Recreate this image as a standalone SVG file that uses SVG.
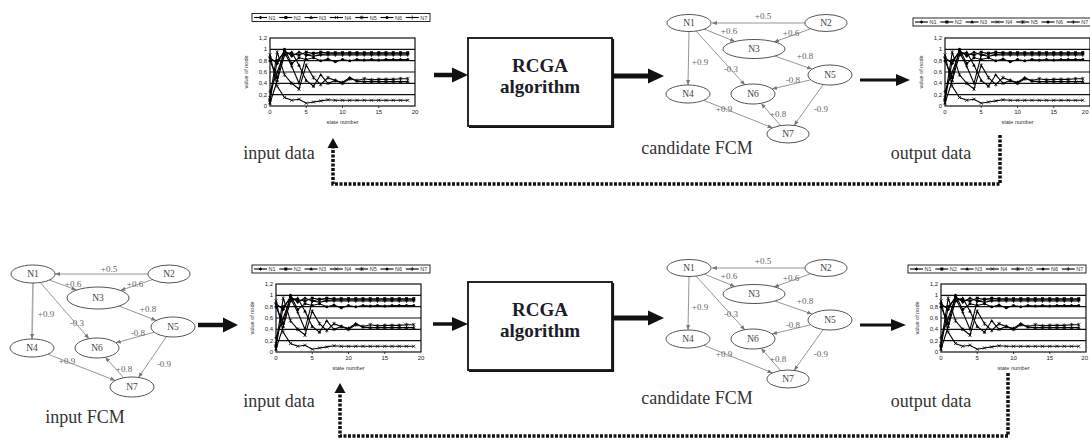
<svg xmlns="http://www.w3.org/2000/svg" xmlns:xlink="http://www.w3.org/1999/xlink" width="1090" height="441" viewBox="0 0 1090 441">
<style>
.lbl{font-family:"Liberation Serif",serif;font-size:18px;fill:#333;text-anchor:middle}
.algo{font-family:"Liberation Serif",serif;font-size:19px;font-weight:bold;fill:#1c1c28;text-anchor:middle}
.nd ellipse{fill:#fff;stroke:#555;stroke-width:1}
.nd text{font-family:"Liberation Serif",serif;font-size:9.5px;fill:#444;text-anchor:middle}
.edge{stroke:#8a8a8a;stroke-width:0.9;fill:none;marker-end:url(#ea)}
.w{font-family:"Liberation Serif",serif;font-size:9px;fill:#666;text-anchor:middle}
.tk{font-family:"Liberation Sans",sans-serif;font-size:6px;fill:#222}
.ty{text-anchor:end}
.tx{text-anchor:middle}
.te{text-anchor:end}
.ax{font-family:"Liberation Sans",sans-serif;font-size:5.5px;fill:#333;text-anchor:middle}
.lg{font-family:"Liberation Sans",sans-serif;font-size:5.5px;fill:#333}
.fb{fill:none;stroke:#111;stroke-width:3.5;stroke-dasharray:3 1.5}
.ser{fill:none;stroke:#000;stroke-width:1.1}
.grid{stroke:#111;stroke-width:1.2}
.box{fill:#fff;stroke:#111;stroke-width:1.8}
.shadow{fill:none;stroke:#111;stroke-width:1.6}
.shaft{stroke:#111}
.head{fill:#111}
</style>
<defs>
<marker id="ea" viewBox="0 0 10 10" refX="10" refY="5" markerWidth="5" markerHeight="5" markerUnits="userSpaceOnUse" orient="auto"><path d="M0,1L10,5L0,9Z" fill="#777"/></marker>
<marker id="k1" markerUnits="userSpaceOnUse" markerWidth="4" markerHeight="4" refX="0" refY="0" overflow="visible"><path d="M0,-1.8L1.8,0L0,1.8L-1.8,0Z" fill="#000"/></marker>
<marker id="k2" markerUnits="userSpaceOnUse" markerWidth="4" markerHeight="4" refX="0" refY="0" overflow="visible"><rect x="-1.5" y="-1.5" width="3" height="3" fill="#000"/></marker>
<marker id="k3" markerUnits="userSpaceOnUse" markerWidth="4" markerHeight="4" refX="0" refY="0" overflow="visible"><path d="M0,-1.9L1.8,1.2L-1.8,1.2Z" fill="#000"/></marker>
<marker id="k4" markerUnits="userSpaceOnUse" markerWidth="4" markerHeight="4" refX="0" refY="0" overflow="visible"><path d="M-1.6,-1.6L1.6,1.6M-1.6,1.6L1.6,-1.6" stroke="#000" stroke-width="0.7"/></marker>
<marker id="k5" markerUnits="userSpaceOnUse" markerWidth="4" markerHeight="4" refX="0" refY="0" overflow="visible"><path d="M-1.6,-1.6L1.6,1.6M-1.6,1.6L1.6,-1.6M0,-2V2" stroke="#000" stroke-width="0.7"/></marker>
<marker id="k6" markerUnits="userSpaceOnUse" markerWidth="4" markerHeight="4" refX="0" refY="0" overflow="visible"><circle r="1.5" fill="#000"/></marker>
<marker id="k7" markerUnits="userSpaceOnUse" markerWidth="4" markerHeight="4" refX="0" refY="0" overflow="visible"><path d="M0,-2V2M-1.6,0H1.6" stroke="#000" stroke-width="0.7"/></marker>

<g id="plot">
<rect x="0" y="-68" width="145" height="68" fill="#fff" stroke="#111" stroke-width="1.2"/>
<path class="grid" d="M0,-56.7H145M0,-45.3H145M0,-34H145M0,-22.7H145M0,-11.3H145"/>
<path stroke="#111" stroke-width="0.8" d="M36.25,0V2M72.5,0V2M108.75,0V2"/>
<polyline class="ser" marker-start="url(#k1)" marker-mid="url(#k1)" marker-end="url(#k1)" points="0,-48.2 7.25,-42.5 14.5,-55.5 21.75,-49.9 29,-53.8 36.25,-51 43.5,-52.7 50.75,-51.6 58,-52.1 65.25,-52.1 72.5,-52.1 79.75,-52.1 87,-52.1 94.25,-52.1 101.5,-52.1 108.75,-52.1 116,-52.1 123.25,-52.1 130.5,-52.1 137.75,-52.1"/>
<polyline class="ser" marker-start="url(#k2)" marker-mid="url(#k2)" marker-end="url(#k2)" points="0,-5.7 7.25,-45.3 14.5,-53.8 21.75,-52.1 29,-51 36.25,-53.8 43.5,-52.7 50.75,-53.8 58,-53.3 65.25,-53.3 72.5,-53.3 79.75,-53.3 87,-53.3 94.25,-53.3 101.5,-53.3 108.75,-53.3 116,-53.3 123.25,-53.3 130.5,-53.3 137.75,-53.3"/>
<polyline class="ser" marker-start="url(#k3)" marker-mid="url(#k3)" marker-end="url(#k3)" points="0,-2.8 7.25,-25.5 14.5,-51 21.75,-53.8 29,-40.8 36.25,-25.5 43.5,-19.8 50.75,-31.2 58,-22.7 65.25,-25.5 72.5,-23.8 79.75,-28.3 87,-24.9 94.25,-24.4 101.5,-24.4 108.75,-24.4 116,-24.4 123.25,-24.4 130.5,-24.4 137.75,-24.4"/>
<polyline class="ser" marker-start="url(#k4)" marker-mid="url(#k4)" marker-end="url(#k4)" points="0,-51 7.25,-19.8 14.5,-8.5 21.75,-5.7 29,-6.8 36.25,-2.8 43.5,-4 50.75,-5.1 58,-6.2 65.25,-5.7 72.5,-5.7 79.75,-5.7 87,-5.7 94.25,-5.7 101.5,-5.7 108.75,-5.7 116,-5.7 123.25,-5.7 130.5,-5.7 137.75,-5.7"/>
<polyline class="ser" marker-start="url(#k5)" marker-mid="url(#k5)" marker-end="url(#k5)" points="0,-8.5 7.25,-53.8 14.5,-31.2 21.75,-22.7 29,-17 36.25,-40.8 43.5,-28.3 50.75,-21.5 58,-28.3 65.25,-25.5 72.5,-22.7 79.75,-27.2 87,-25.5 94.25,-27.2 101.5,-26.1 108.75,-26.6 116,-26.6 123.25,-26.6 130.5,-27.2 137.75,-27.2"/>
<polyline class="ser" marker-start="url(#k6)" marker-mid="url(#k6)" marker-end="url(#k6)" points="0,-45.3 7.25,-28.3 14.5,-56.7 21.75,-42.5 29,-48.2 36.25,-46.5 43.5,-48.2 50.75,-45.3 58,-47 65.25,-44.2 72.5,-46.5 79.75,-45.3 87,-46.5 94.25,-45.9 101.5,-46.5 108.75,-45.9 116,-46.5 123.25,-46.5 130.5,-46.5 137.75,-46.5"/>
<polyline class="ser" marker-start="url(#k7)" marker-mid="url(#k7)" marker-end="url(#k7)" points="0,-14.2 7.25,-34 14.5,-53.8 21.75,-39.7 29,-22.7 36.25,-51 43.5,-49.9 50.75,-51 58,-51 65.25,-51 72.5,-51 79.75,-51 87,-51 94.25,-51 101.5,-51 108.75,-51 116,-51 123.25,-51 130.5,-51 137.75,-51"/>
</g>

<g id="legend">
<rect x="0" y="0" width="178" height="8" fill="#fff" stroke="#111" stroke-width="0.9"/>
<polyline class="ser" marker-mid="url(#k1)" points="2,4 8.5,4 15,4"/>
<polyline class="ser" marker-mid="url(#k2)" points="27.3,4 33.8,4 40.3,4"/>
<polyline class="ser" marker-mid="url(#k3)" points="52.6,4 59.1,4 65.6,4"/>
<polyline class="ser" marker-mid="url(#k4)" points="77.9,4 84.4,4 90.9,4"/>
<polyline class="ser" marker-mid="url(#k5)" points="103.2,4 109.7,4 116.2,4"/>
<polyline class="ser" marker-mid="url(#k6)" points="128.5,4 135,4 141.5,4"/>
<polyline class="ser" marker-mid="url(#k7)" points="153.8,4 160.3,4 166.8,4"/>
</g>
</defs>

<rect width="1090" height="441" fill="#fff"/>

<!-- Chart A: top input data -->
<g id="chart-top-input">
<use xlink:href="#legend" x="252" y="13.5"/>
<g class="lg" transform="translate(252,13.5)"><text x="16.5" y="6">N1</text><text x="41.8" y="6">N2</text><text x="67.1" y="6">N3</text><text x="92.4" y="6">N4</text><text x="117.7" y="6">N5</text><text x="143" y="6">N6</text><text x="168.3" y="6">N7</text></g>
<use xlink:href="#plot" x="270" y="106"/>
<g class="tk" transform="translate(270,106)">
<text class="ty" x="-3" y="-66">1,2</text><text class="ty" x="-3" y="-54.7">1</text><text class="ty" x="-3" y="-43.3">0,8</text><text class="ty" x="-3" y="-32">0,6</text><text class="ty" x="-3" y="-20.7">0,4</text><text class="ty" x="-3" y="-9.3">0,2</text><text class="ty" x="-3" y="2">0</text>
<text class="tx" x="0" y="8">0</text><text class="tx" x="36.25" y="8">5</text><text class="tx" x="72.5" y="8">10</text><text class="tx" x="108.75" y="8">15</text><text class="tx" x="145" y="8">20</text>
<text class="ax" x="72.5" y="18">state number</text>
<text class="ax" transform="translate(-22,-34) rotate(-90)">value of node</text>
</g>
</g>

<!-- Chart B: top output data -->
<g id="chart-top-output">
<use xlink:href="#legend" x="913" y="18"/>
<g class="lg" transform="translate(913,18)"><text x="16.5" y="6">N1</text><text x="41.8" y="6">N2</text><text x="67.1" y="6">N3</text><text x="92.4" y="6">N4</text><text x="117.7" y="6">N5</text><text x="143" y="6">N6</text><text x="168.3" y="6">N7</text></g>
<use xlink:href="#plot" x="945" y="106"/>
<g class="tk" transform="translate(945,106)">
<text class="ty" x="-3" y="-66">1,2</text><text class="ty" x="-3" y="-54.7">1</text><text class="ty" x="-3" y="-43.3">0,8</text><text class="ty" x="-3" y="-32">0,6</text><text class="ty" x="-3" y="-20.7">0,4</text><text class="ty" x="-3" y="-9.3">0,2</text><text class="ty" x="-3" y="2">0</text>
<text class="tx" x="0" y="8">0</text><text class="tx" x="36.25" y="8">5</text><text class="tx" x="72.5" y="8">10</text><text class="tx" x="108.75" y="8">15</text><text class="te" x="143.5" y="8">20</text>
<text class="ax" x="72.5" y="18">state number</text>
<text class="ax" transform="translate(-22,-34) rotate(-90)">value of node</text>
</g>
</g>

<!-- Chart C: bottom input data -->
<g id="chart-bottom-input">
<use xlink:href="#legend" x="252" y="265"/>
<g class="lg" transform="translate(252,265)"><text x="16.5" y="6">N1</text><text x="41.8" y="6">N2</text><text x="67.1" y="6">N3</text><text x="92.4" y="6">N4</text><text x="117.7" y="6">N5</text><text x="143" y="6">N6</text><text x="168.3" y="6">N7</text></g>
<use xlink:href="#plot" x="276" y="352"/>
<g class="tk" transform="translate(276,352)">
<text class="ty" x="-3" y="-66">1,2</text><text class="ty" x="-3" y="-54.7">1</text><text class="ty" x="-3" y="-43.3">0,8</text><text class="ty" x="-3" y="-32">0,6</text><text class="ty" x="-3" y="-20.7">0,4</text><text class="ty" x="-3" y="-9.3">0,2</text><text class="ty" x="-3" y="2">0</text>
<text class="tx" x="0" y="8">0</text><text class="tx" x="36.25" y="8">5</text><text class="tx" x="72.5" y="8">10</text><text class="tx" x="108.75" y="8">15</text><text class="tx" x="145" y="8">20</text>
<text class="ax" x="72.5" y="18">state number</text>
<text class="ax" transform="translate(-22,-34) rotate(-90)">value of node</text>
</g>
</g>

<!-- Chart D: bottom output data -->
<g id="chart-bottom-output">
<use xlink:href="#legend" x="908" y="265"/>
<g class="lg" transform="translate(908,265)"><text x="16.5" y="6">N1</text><text x="41.8" y="6">N2</text><text x="67.1" y="6">N3</text><text x="92.4" y="6">N4</text><text x="117.7" y="6">N5</text><text x="143" y="6">N6</text><text x="168.3" y="6">N7</text></g>
<use xlink:href="#plot" x="941" y="352"/>
<g class="tk" transform="translate(941,352)">
<text class="ty" x="-3" y="-66">1,2</text><text class="ty" x="-3" y="-54.7">1</text><text class="ty" x="-3" y="-43.3">0,8</text><text class="ty" x="-3" y="-32">0,6</text><text class="ty" x="-3" y="-20.7">0,4</text><text class="ty" x="-3" y="-9.3">0,2</text><text class="ty" x="-3" y="2">0</text>
<text class="tx" x="0" y="8">0</text><text class="tx" x="36.25" y="8">5</text><text class="tx" x="72.5" y="8">10</text><text class="tx" x="108.75" y="8">15</text><text class="te" x="147" y="8">20</text>
<text class="ax" x="72.5" y="18">state number</text>
<text class="ax" transform="translate(-22,-34) rotate(-90)">value of node</text>
</g>
</g>

<!-- RCGA boxes -->
<g id="rcga-top">
<rect class="box" x="468" y="38" width="144" height="88"/>
<path class="shadow" d="M469,127.3H613.3V39"/>
<text class="algo" x="540" y="72">RCGA</text>
<text class="algo" x="540" y="93">algorithm</text>
</g>
<g id="rcga-bottom">
<rect class="box" x="468" y="282" width="144" height="88"/>
<path class="shadow" d="M469,371.3H613.3V283"/>
<text class="algo" x="540" y="316">RCGA</text>
<text class="algo" x="540" y="337">algorithm</text>
</g>

<!-- Candidate FCM top -->
<g id="fcm-candidate-top">
<g id="fcm-candidate-top-edges">
<path class="edge" d="M805,23L712,23"/>
<path class="edge" d="M704,29L735,41.5"/>
<path class="edge" d="M810,29L774,42"/>
<path class="edge" d="M689,31.5L688,85"/>
<path class="edge" d="M696,31L745,85"/>
<path class="edge" d="M774.7,56L812,69"/>
<path class="edge" d="M810.7,79.8L772,89"/>
<path class="edge" d="M703.7,100.3L772.6,127.9"/>
<path class="edge" d="M780.6,125.6L761.1,103.3"/>
<path class="edge" d="M823.2,84.5L794.1,125.4"/>
<text class="w" x="763" y="18.5">+0.5</text>
<text class="w" x="729" y="33.5">+0.6</text>
<text class="w" x="791" y="35.5">+0.6</text>
<text class="w" x="805" y="58.5">+0.8</text>
<text class="w" x="700" y="64.5">+0.9</text>
<text class="w" x="731" y="71.5">-0.3</text>
<text class="w" x="793" y="82.5">-0.8</text>
<text class="w" x="724" y="111.5">+0.9</text>
<text class="w" x="778" y="116.5">+0.8</text>
<text class="w" x="821" y="111.5">-0.9</text>
</g>
<g id="ct-N1" class="nd"><ellipse cx="689" cy="23" rx="22" ry="8.5"/><text x="689" y="26.3">N1</text></g>
<g id="ct-N2" class="nd"><ellipse cx="826" cy="23" rx="21" ry="8.5"/><text x="826" y="26.3">N2</text></g>
<g id="ct-N3" class="nd"><ellipse cx="754" cy="49" rx="31" ry="9.5"/><text x="754" y="52.3">N3</text></g>
<g id="ct-N4" class="nd"><ellipse cx="688" cy="94" rx="22" ry="9"/><text x="688" y="97.3">N4</text></g>
<g id="ct-N5" class="nd"><ellipse cx="830" cy="75" rx="22" ry="10"/><text x="830" y="78.3">N5</text></g>
<g id="ct-N6" class="nd"><ellipse cx="753" cy="94" rx="22" ry="10"/><text x="753" y="97.3">N6</text></g>
<g id="ct-N7" class="nd"><ellipse cx="788" cy="134" rx="21" ry="9"/><text x="788" y="137.3">N7</text></g>
</g>

<!-- Candidate FCM bottom -->
<g id="fcm-candidate-bottom" transform="translate(0,245)">
<g id="fcm-candidate-bottom-edges">
<path class="edge" d="M805,23L712,23"/>
<path class="edge" d="M704,29L735,41.5"/>
<path class="edge" d="M810,29L774,42"/>
<path class="edge" d="M689,31.5L688,85"/>
<path class="edge" d="M696,31L745,85"/>
<path class="edge" d="M774.7,56L812,69"/>
<path class="edge" d="M810.7,79.8L772,89"/>
<path class="edge" d="M703.7,100.3L772.6,127.9"/>
<path class="edge" d="M780.6,125.6L761.1,103.3"/>
<path class="edge" d="M823.2,84.5L794.1,125.4"/>
<text class="w" x="763" y="18.5">+0.5</text>
<text class="w" x="729" y="33.5">+0.6</text>
<text class="w" x="791" y="35.5">+0.6</text>
<text class="w" x="805" y="58.5">+0.8</text>
<text class="w" x="700" y="64.5">+0.9</text>
<text class="w" x="731" y="71.5">-0.3</text>
<text class="w" x="793" y="82.5">-0.8</text>
<text class="w" x="724" y="111.5">+0.9</text>
<text class="w" x="778" y="116.5">+0.8</text>
<text class="w" x="821" y="111.5">-0.9</text>
</g>
<g id="cb-N1" class="nd"><ellipse cx="689" cy="23" rx="22" ry="8.5"/><text x="689" y="26.3">N1</text></g>
<g id="cb-N2" class="nd"><ellipse cx="826" cy="23" rx="21" ry="8.5"/><text x="826" y="26.3">N2</text></g>
<g id="cb-N3" class="nd"><ellipse cx="754" cy="49" rx="31" ry="9.5"/><text x="754" y="52.3">N3</text></g>
<g id="cb-N4" class="nd"><ellipse cx="688" cy="94" rx="22" ry="9"/><text x="688" y="97.3">N4</text></g>
<g id="cb-N5" class="nd"><ellipse cx="830" cy="75" rx="22" ry="10"/><text x="830" y="78.3">N5</text></g>
<g id="cb-N6" class="nd"><ellipse cx="753" cy="94" rx="22" ry="10"/><text x="753" y="97.3">N6</text></g>
<g id="cb-N7" class="nd"><ellipse cx="788" cy="134" rx="21" ry="9"/><text x="788" y="137.3">N7</text></g>
</g>

<!-- Input FCM -->
<g id="fcm-input">
<g id="fcm-input-edges">
<path class="edge" d="M148,274L55,274"/>
<path class="edge" d="M49.3,280L76.5,290"/>
<path class="edge" d="M152.5,279.6L120.4,290.4"/>
<path class="edge" d="M33,283L32,339" style="stroke:#aaa;stroke-width:1.6"/>
<path class="edge" d="M40.3,282.5L89,338.7"/>
<path class="edge" d="M119,306L156.3,320.5"/>
<path class="edge" d="M154.2,332.2L115.8,342.8"/>
<path class="edge" d="M47.9,354.2L115.3,380.5"/>
<path class="edge" d="M123.7,377.8L105.3,357.2"/>
<path class="edge" d="M166.5,336.5L138.5,377.5"/>
<text class="w" x="109" y="272">+0.5</text>
<text class="w" x="73" y="287">+0.6</text>
<text class="w" x="135" y="287">+0.6</text>
<text class="w" x="46" y="317">+0.9</text>
<text class="w" x="77" y="326">-0.3</text>
<text class="w" x="148" y="312">+0.8</text>
<text class="w" x="138" y="336">-0.8</text>
<text class="w" x="67" y="364">+0.9</text>
<text class="w" x="124" y="372">+0.8</text>
<text class="w" x="164" y="367">-0.9</text>
</g>
<g id="in-N1" class="nd"><ellipse cx="33" cy="274" rx="22" ry="9"/><text x="33" y="277.3">N1</text></g>
<g id="in-N2" class="nd"><ellipse cx="169" cy="274" rx="21" ry="9"/><text x="169" y="277.3">N2</text></g>
<g id="in-N3" class="nd"><ellipse cx="98" cy="298" rx="31" ry="11"/><text x="98" y="301.3">N3</text></g>
<g id="in-N4" class="nd"><ellipse cx="32" cy="348" rx="22" ry="9"/><text x="32" y="351.3">N4</text></g>
<g id="in-N5" class="nd"><ellipse cx="173" cy="327" rx="22" ry="10"/><text x="173" y="330.3">N5</text></g>
<g id="in-N6" class="nd"><ellipse cx="97" cy="348" rx="22" ry="10"/><text x="97" y="351.3">N6</text></g>
<g id="in-N7" class="nd"><ellipse cx="132" cy="387" rx="22" ry="10"/><text x="132" y="390.3">N7</text></g>
</g>

<!-- Captions -->
<g id="captions">
<text class="lbl" x="279" y="159">input data</text>
<text class="lbl" x="697" y="154">candidate FCM</text>
<text class="lbl" x="931" y="159">output data</text>
<text class="lbl" x="85" y="423">input FCM</text>
<text class="lbl" x="279" y="407">input data</text>
<text class="lbl" x="697" y="404">candidate FCM</text>
<text class="lbl" x="931" y="407">output data</text>
</g>

<!-- Connectors -->
<g id="connectors">
<line class="shaft" x1="434" y1="75" x2="454" y2="75" stroke-width="4.5"/>
<polygon class="head" points="452,67.5 468,75 452,82.5"/>
<line class="shaft" x1="612" y1="76" x2="650" y2="76" stroke-width="5"/>
<polygon class="head" points="648,68.5 664,76 648,83.5"/>
<line class="shaft" x1="860" y1="80" x2="898" y2="80" stroke-width="3"/>
<polygon class="head" points="896,74 910,80 896,86"/>
<line class="shaft" x1="198" y1="325" x2="225" y2="325" stroke-width="4.5"/>
<polygon class="head" points="223,317.5 238,325 223,332.5"/>
<line class="shaft" x1="433" y1="324" x2="454" y2="324" stroke-width="3.5"/>
<polygon class="head" points="452,317 468,324 452,331"/>
<line class="shaft" x1="612" y1="318" x2="650" y2="318" stroke-width="5"/>
<polygon class="head" points="648,310.5 664,318 648,325.5"/>
<line class="shaft" x1="860" y1="325" x2="893" y2="325" stroke-width="3"/>
<polygon class="head" points="891,319 906,325 891,331"/>
<path class="fb" d="M1000,135V184H333V147"/>
<polygon class="head" points="327.5,148 333,138 338.5,148"/>
<path class="fb" d="M1008,373V436H340V392"/>
<polygon class="head" points="334.5,393 340,383 345.5,393"/>
</g>
</svg>
